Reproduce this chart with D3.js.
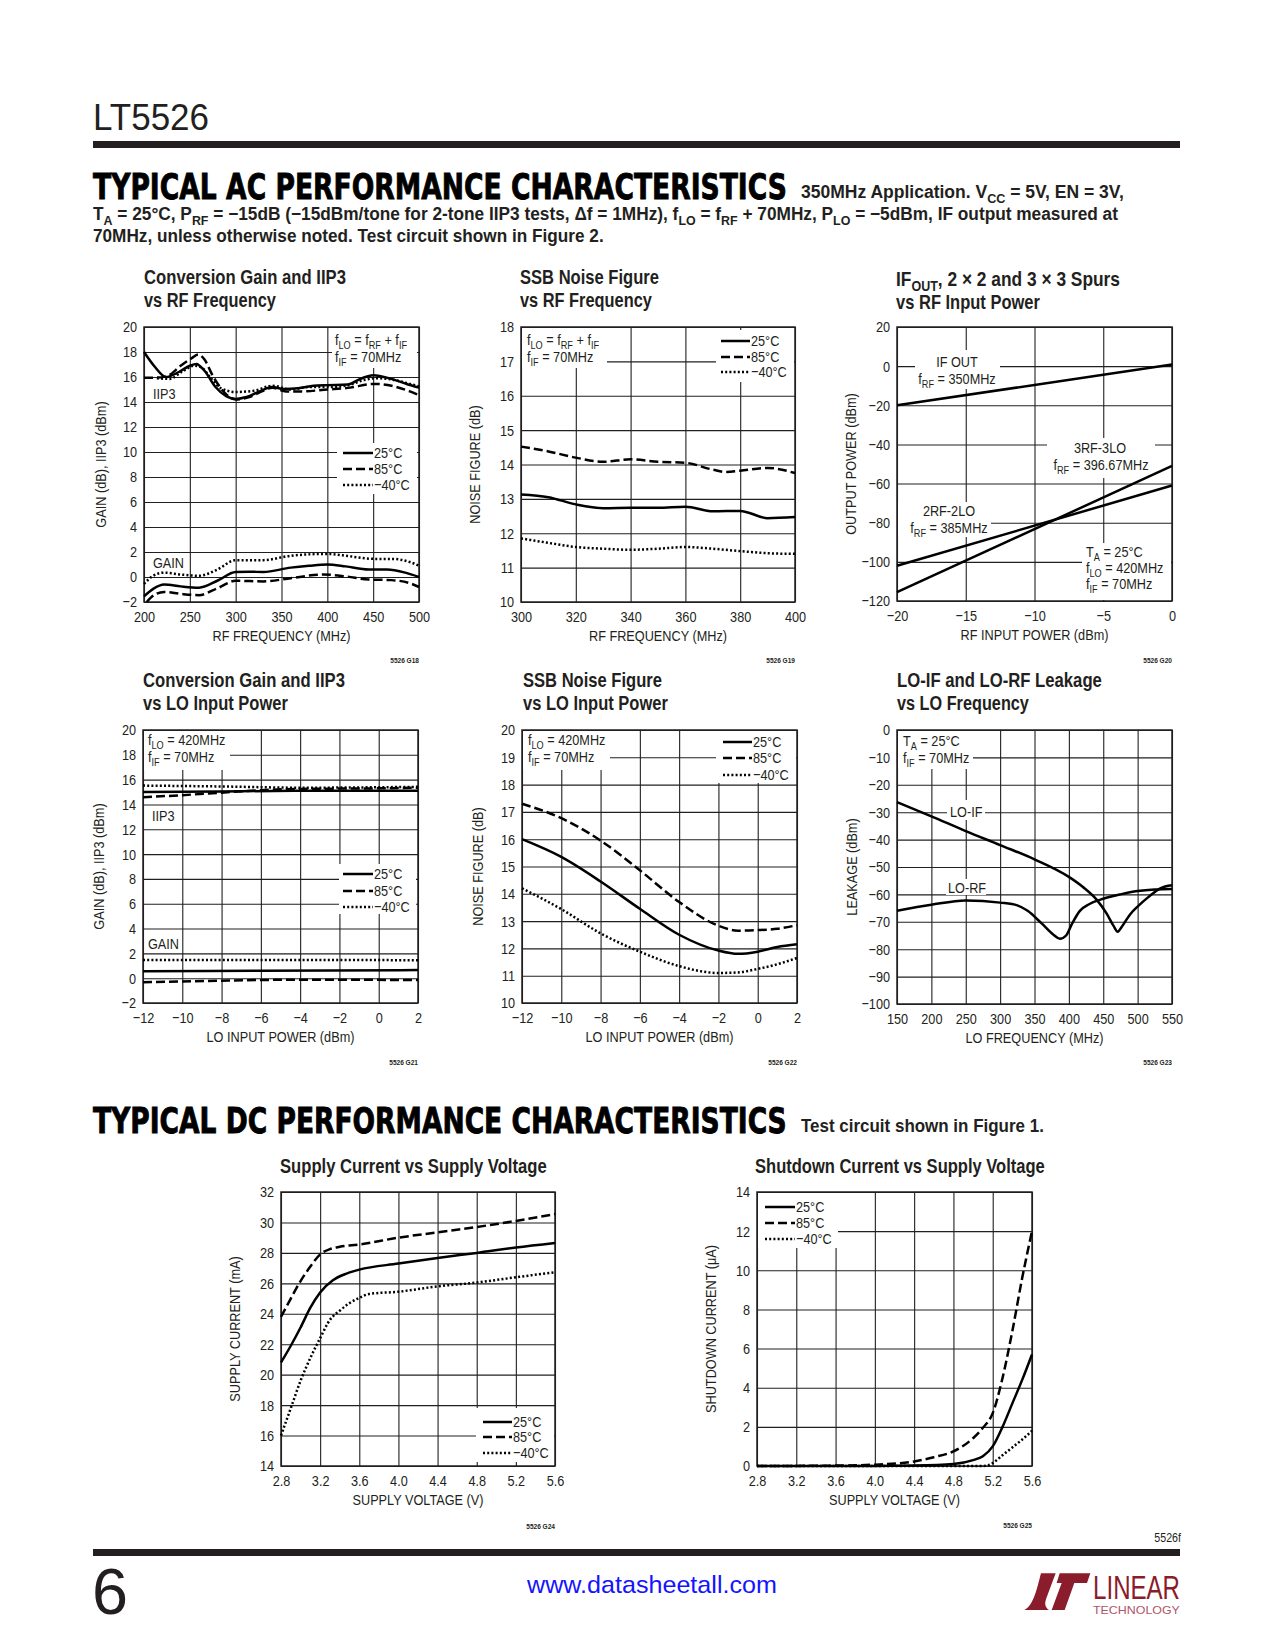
<!DOCTYPE html>
<html><head><meta charset="utf-8">
<script src="https://cdn.jsdelivr.net/npm/d3@7/dist/d3.min.js"></script>
<style>
body{margin:0;background:#fff;}
svg{display:block;}
</style></head><body>
<svg id="page" width="1275" height="1650"></svg>
<script>
// ---------------- DATA ----------------
const tempLabels = ['25°C', '85°C', '\u221240°C'];

// Chart 1: Conversion Gain and IIP3 vs RF Frequency
const c1XTicks = [200, 250, 300, 350, 400, 450, 500];
const c1YTicks = [-2, 0, 2, 4, 6, 8, 10, 12, 14, 16, 18, 20];
const c1Iip3_25 = [[200,18],[212,16.8],[224,16.0],[238,16.4],[250,16.9],[257,17.05],[266,16.5],[278,15.2],[290,14.45],[300,14.25],[312,14.4],[326,14.85],[340,15.2],[352,15.05],[368,15.1],[385,15.3],[400,15.35],[422,15.4],[436,15.85],[450,16.15],[470,15.85],[488,15.4],[500,15.15]];
const c1Iip3_85 = [[200,15.95],[214,15.95],[226,16.1],[240,16.9],[252,17.5],[259,17.8],[266,17.4],[275,16.1],[286,14.9],[300,14.2],[315,14.4],[330,14.9],[340,15.15],[355,14.85],[372,14.85],[400,15.0],[425,15.15],[450,15.45],[470,15.3],[490,14.85],[500,14.55]];
const c1Iip3_m40 = [[214,15.9],[228,15.85],[242,16.45],[255,16.9],[263,16.75],[273,15.9],[284,15.1],[300,14.8],[320,14.9],[340,15.3],[360,15.0],[380,15.2],[400,15.2],[420,15.3],[440,15.75],[452,15.9],[470,15.8],[490,15.45],[500,15.25]];
const c1Gain_25 = [[200,-1.55],[210,-0.95],[222,-0.6],[240,-0.75],[260,-0.85],[280,-0.3],[300,0.4],[315,0.42],[330,0.4],[360,0.75],[380,0.9],[400,1.0],[420,0.85],[445,0.6],[465,0.6],[485,0.35],[500,0.0]];
const c1Gain_85 = [[203,-2.0],[212,-1.4],[222,-1.2],[240,-1.35],[260,-1.45],[280,-0.9],[300,-0.3],[330,-0.35],[360,-0.1],[395,0.2],[420,0.05],[445,-0.2],[470,-0.25],[490,-0.5],[500,-0.8]];
const c1Gain_m40 = [[200,-0.55],[210,0.1],[222,0.35],[240,0.2],[260,0.1],[280,0.6],[300,1.35],[330,1.35],[360,1.7],[400,1.85],[425,1.65],[450,1.45],[470,1.45],[490,1.2],[500,0.9]];

// Chart 2: SSB Noise Figure vs RF Frequency
const c2XTicks = [300, 320, 340, 360, 380, 400];
const c2YTicks = [10, 11, 12, 13, 14, 15, 16, 17, 18];
const c2Nf_25 = [[300,13.13],[310,13.05],[320,12.84],[330,12.73],[340,12.74],[350,12.74],[360,12.77],[370,12.64],[380,12.65],[390,12.44],[400,12.47]];
const c2Nf_85 = [[300,14.52],[310,14.38],[320,14.2],[330,14.08],[340,14.15],[350,14.08],[360,14.05],[370,13.85],[375,13.78],[380,13.82],[390,13.9],[400,13.75]];
const c2Nf_m40 = [[300,11.85],[310,11.72],[320,11.6],[330,11.55],[340,11.52],[350,11.55],[360,11.6],[370,11.55],[380,11.48],[390,11.42],[400,11.4]];

// Chart 3: IFOUT, 2x2 and 3x3 spurs vs RF input power
const c3XTicks = [-20, -15, -10, -5, 0];
const c3YTicks = [-120, -100, -80, -60, -40, -20, 0, 20];
const c3IfOut = [[-20,-20],[0,0.8]];
const c3Spur22 = [[-20,-102],[0,-61]];
const c3Spur33 = [[-20,-115.5],[0,-51]];

// Chart 4: Conversion Gain and IIP3 vs LO Input Power
const c4XTicks = [-12, -10, -8, -6, -4, -2, 0, 2];
const c4YTicks = [-2, 0, 2, 4, 6, 8, 10, 12, 14, 16, 18, 20];
const c4Iip3_25 = [[-12,15.0],[-8,15.05],[-4,15.1],[2,15.1]];
const c4Iip3_85 = [[-12,14.58],[-10,14.75],[-8,14.95],[-6,15.15],[-4,15.25],[0,15.3],[2,15.35]];
const c4Iip3_m40 = [[-12,15.52],[-8,15.45],[-4,15.35],[2,15.42]];
const c4Gain_25 = [[-12,0.55],[-6,0.6],[2,0.65]];
const c4Gain_85 = [[-12,-0.33],[-8,-0.2],[-4,-0.12],[2,-0.15]];
const c4Gain_m40 = [[-12,1.47],[-6,1.47],[2,1.45]];

// Chart 5: SSB Noise Figure vs LO Input Power
const c5XTicks = [-12, -10, -8, -6, -4, -2, 0, 2];
const c5YTicks = [10, 11, 12, 13, 14, 15, 16, 17, 18, 19, 20];
const c5Nf_25 = [[-12,16.0],[-10,15.35],[-8,14.45],[-6,13.45],[-4,12.5],[-2,11.92],[-1,11.8],[0,11.88],[1,12.05],[2,12.15]];
const c5Nf_85 = [[-12,17.3],[-10,16.77],[-8,15.95],[-6,14.86],[-4,13.7],[-2,12.83],[-1,12.65],[0,12.67],[1,12.72],[2,12.85]];
const c5Nf_m40 = [[-12,14.2],[-10,13.44],[-8,12.55],[-6,11.88],[-4,11.35],[-2,11.1],[-1,11.12],[0,11.25],[1,11.42],[2,11.65]];

// Chart 6: LO-IF and LO-RF Leakage vs LO Frequency
const c6XTicks = [150, 200, 250, 300, 350, 400, 450, 500, 550];
const c6YTicks = [-100, -90, -80, -70, -60, -50, -40, -30, -20, -10, 0];
const c6LoIf = [[150,-26.3],[200,-31.5],[250,-36.9],[300,-42.0],[350,-47.2],[400,-53.6],[420,-57.2],[440,-61.8],[455,-67],[465,-71.5],[471,-73.6],[477,-71.8],[489,-67.3],[501,-64.2],[516,-60.9],[533,-57.8],[550,-56.7]];
const c6LoRf = [[150,-66],[200,-63.8],[250,-62.2],[300,-63],[325,-64],[340,-66],[360,-70.5],[378,-74.8],[387,-76.2],[396,-75],[405,-70.5],[416,-66],[430,-63.5],[450,-61.6],[475,-60],[500,-58.8],[525,-58.2],[550,-58]];

// Chart 7: Supply Current vs Supply Voltage
const c7XTicks = [2.8, 3.2, 3.6, 4.0, 4.4, 4.8, 5.2, 5.6];
const c7YTicks = [14, 16, 18, 20, 22, 24, 26, 28, 30, 32];
const c7I_25 = [[2.8,20.8],[2.9,21.9],[3.0,23.1],[3.1,24.4],[3.2,25.4],[3.33,26.2],[3.47,26.64],[3.6,26.9],[4.0,27.3],[4.4,27.67],[4.8,28.0],[5.2,28.35],[5.6,28.65]];
const c7I_85 = [[2.8,23.8],[2.9,25.0],[3.0,26.15],[3.1,27.1],[3.2,27.9],[3.3,28.25],[3.4,28.4],[3.6,28.55],[4.0,29.0],[4.4,29.35],[4.8,29.7],[5.2,30.1],[5.6,30.55]];
const c7I_m40 = [[2.8,16.0],[2.9,17.8],[3.0,19.6],[3.1,21.1],[3.2,22.4],[3.3,23.6],[3.4,24.2],[3.5,24.7],[3.6,25.05],[3.7,25.3],[4.0,25.45],[4.4,25.8],[4.8,26.05],[5.2,26.4],[5.6,26.72]];

// Chart 8: Shutdown Current vs Supply Voltage
const c8XTicks = [2.8, 3.2, 3.6, 4.0, 4.4, 4.8, 5.2, 5.6];
const c8YTicks = [0, 2, 4, 6, 8, 10, 12, 14];
const c8I_25 = [[2.8,0],[4.0,0],[4.4,0.02],[4.8,0.1],[5.0,0.3],[5.1,0.5],[5.2,1.0],[5.3,2.0],[5.4,3.2],[5.5,4.4],[5.6,5.7]];
const c8I_85 = [[2.8,0],[3.6,0.02],[4.0,0.07],[4.4,0.23],[4.6,0.45],[4.8,0.75],[5.0,1.42],[5.1,1.95],[5.2,2.7],[5.3,4.5],[5.4,6.9],[5.5,9.6],[5.6,12.0]];
const c8I_m40 = [[2.8,0],[5.1,0],[5.15,0.03],[5.2,0.15],[5.3,0.55],[5.4,0.95],[5.5,1.35],[5.6,1.8]];

// ---------------- DRAWING ----------------
const svg = d3.select('#page');
const FONT = '"Liberation Sans Narrow","Arial Narrow","Liberation Sans",Arial,sans-serif';
const INK = '#231f20';
const DASH = {solid: null, dash: '9,4', dot: '2,2.2'};
const NARROW = 0.82;

function fmtNum(d) { return d < 0 ? '\u2212' + Math.abs(d) : String(d); }
function fmt1(d) { return d3.format('.1f')(d); }

function txt(parent, x, y, size, opts) {
  opts = opts || {};
  const t = parent.append('text').attr('x', x).attr('y', y)
    .attr('font-family', opts.family || FONT).attr('font-size', size)
    .attr('font-weight', opts.weight || 'normal').attr('fill', opts.fill || INK)
    .attr('text-anchor', opts.anchor || 'start');
  if (opts.len) t.attr('data-len', opts.len);
  return t;
}
function rich(sel, parts, size) {
  const sub = size * 0.72, shift = size * 0.26;
  let down = false;
  parts.forEach(p => {
    const isSub = Array.isArray(p);
    const t = sel.append('tspan').text(isSub ? p[0] : p);
    if (isSub) { t.attr('font-size', sub); if (!down) { t.attr('dy', shift); down = true; } }
    else if (down) { t.attr('dy', -shift); down = false; }
  });
  return sel;
}

function chart(c) {
  const g = svg.append('g');
  const x = d3.scaleLinear().domain(c.xDomain).range([c.L, c.R]);
  const y = d3.scaleLinear().domain(c.yDomain).range([c.B, c.T]);
  const W = c.R - c.L, H = c.B - c.T;

  // grid lines through d3 axes
  const gx = g.append('g').attr('transform', `translate(0,${c.B})`)
    .call(d3.axisBottom(x).tickValues(c.xTicks).tickSize(-H).tickFormat(''));
  gx.select('.domain').remove();
  gx.selectAll('line').attr('stroke', INK).attr('stroke-width', 1.1);
  const gy = g.append('g').attr('transform', `translate(${c.L},0)`)
    .call(d3.axisLeft(y).tickValues(c.yTicks).tickSize(-W).tickFormat(''));
  gy.select('.domain').remove();
  gy.selectAll('line').attr('stroke', INK).attr('stroke-width', 1.1);

  // white boxes behind labels / legends
  (c.boxes || []).concat(c.legend ? [c.legend.box] : []).forEach(b => {
    g.append('rect').attr('x', b[0]).attr('y', b[1]).attr('width', b[2] - b[0]).attr('height', b[3] - b[1]).attr('fill', '#fff');
  });

  // frame
  g.append('rect').attr('x', c.L).attr('y', c.T).attr('width', W).attr('height', H)
    .attr('fill', 'none').attr('stroke', INK).attr('stroke-width', 1.5);

  // tick labels
  const ax = g.append('g').attr('transform', `translate(0,${c.B})`)
    .call(d3.axisBottom(x).tickValues(c.xTicks).tickSize(0).tickPadding(9).tickFormat(c.xFmt || fmtNum));
  ax.select('.domain').remove();
  ax.selectAll('text').attr('font-family', FONT).attr('font-size', 15.5).attr('fill', INK);
  const ay = g.append('g').attr('transform', `translate(${c.L},0)`)
    .call(d3.axisLeft(y).tickValues(c.yTicks).tickSize(0).tickPadding(7).tickFormat(c.yFmt || fmtNum));
  ay.select('.domain').remove();
  ay.selectAll('text').attr('font-family', FONT).attr('font-size', 15.5).attr('fill', INK);

  // axis titles
  txt(g, (c.L + c.R) / 2, c.B + 39, 15.5, {anchor: 'middle'}).text(c.xLabel);
  txt(g, 0, 0, 15.5, {anchor: 'middle'}).attr('dy', '0.35em')
    .attr('transform', `translate(${c.L - c.yLabelOff},${(c.T + c.B) / 2}) rotate(-90)`).text(c.yLabel);

  // chart title
  c.title.forEach((line, i) => {
    const t = txt(g, c.titleX, c.titleY + i * 23, 20, {weight: 'bold', len: c.titleLen[i]});
    rich(t, line, 20);
  });

  // figure code
  txt(g, c.R, c.codeY, 8, {anchor: 'end', weight: 'bold'}).text(c.code);

  // annotation texts
  (c.notes || []).forEach(n => {
    rich(txt(g, n.x, n.y, 15.5, {anchor: n.anchor || 'start'}), n.parts, 15.5);
  });

  // legend
  if (c.legend) {
    const L = c.legend;
    ['solid', 'dash', 'dot'].forEach((st, i) => {
      g.append('line').attr('x1', L.lx0).attr('x2', L.lx1).attr('y1', L.rows[i]).attr('y2', L.rows[i])
        .attr('stroke', '#000').attr('stroke-width', 2.5).attr('stroke-dasharray', DASH[st]);
      txt(g, L.lx1 + 1, L.rows[i] + 5.5, 15.5).text(tempLabels[i]);
    });
  }

  // data curves
  const line = d3.line().x(d => x(d[0])).y(d => y(d[1])).curve(c.curve || d3.curveMonotoneX);
  c.series.forEach(s => {
    g.append('path').datum(s.data).attr('d', line).attr('fill', 'none')
      .attr('stroke', '#000').attr('stroke-width', 2.5).attr('stroke-linejoin', 'round')
      .attr('stroke-dasharray', DASH[s.style]);
  });
}

// ---------- page header ----------
txt(svg, 93, 130, 37.5, {len: 116}).text('LT5526');
svg.append('rect').attr('x', 93).attr('y', 141).attr('width', 1087).attr('height', 7).attr('fill', INK);

const HEAD_FONT = '"DejaVu Sans", "Liberation Sans", sans-serif';
txt(svg, 93, 199, 35, {family: HEAD_FONT, weight: 'bold', len: 694, fill: '#000'})
  .attr('stroke', '#000').attr('stroke-width', 0.9).text('TYPICAL AC PERFORMANCE CHARACTERISTICS');
rich(txt(svg, 801, 198, 18, {weight: 'bold', len: 323}), ['350MHz Application. V', ['CC'], ' = 5V, EN = 3V,'], 18);
rich(txt(svg, 93, 220, 18, {weight: 'bold', len: 1026}),
  ['T', ['A'], ' = 25°C, P', ['RF'], ' = \u221215dB (\u221215dBm/tone for 2-tone IIP3 tests, \u0394f = 1MHz), f', ['LO'], ' = f', ['RF'], ' + 70MHz, P', ['LO'], ' = \u22125dBm, IF output measured at'], 18);
txt(svg, 93, 242, 18, {weight: 'bold', len: 511}).text('70MHz, unless otherwise noted. Test circuit shown in Figure 2.');

// ---------- charts ----------
chart({
  L: 144, R: 419, T: 327, B: 602, xDomain: [200, 500], yDomain: [-2, 20], xTicks: c1XTicks, yTicks: c1YTicks,
  xLabel: 'RF FREQUENCY (MHz)', yLabel: 'GAIN (dB), IIP3 (dBm)', yLabelOff: 43,
  title: [['Conversion Gain and IIP3'], ['vs RF Frequency']], titleX: 144, titleY: 284, titleLen: [202, 132],
  code: '5526 G18', codeY: 663,
  boxes: [[332, 328, 417, 368]],
  notes: [
    {x: 335, y: 345, parts: ['f', ['LO'], ' = f', ['RF'], ' + f', ['IF']]},
    {x: 335, y: 362, parts: ['f', ['IF'], ' = 70MHz']},
    {x: 153, y: 399, parts: ['IIP3']},
    {x: 153, y: 568, parts: ['GAIN']}
  ],
  legend: {box: [337, 443, 417, 494], lx0: 343, lx1: 373, rows: [453, 469, 485]},
  series: [
    {data: c1Iip3_25, style: 'solid'}, {data: c1Iip3_85, style: 'dash'}, {data: c1Iip3_m40, style: 'dot'},
    {data: c1Gain_25, style: 'solid'}, {data: c1Gain_85, style: 'dash'}, {data: c1Gain_m40, style: 'dot'}
  ]
});

chart({
  L: 521, R: 795, T: 327, B: 602, xDomain: [300, 400], yDomain: [10, 18], xTicks: c2XTicks, yTicks: c2YTicks,
  xLabel: 'RF FREQUENCY (MHz)', yLabel: 'NOISE FIGURE (dB)', yLabelOff: 46,
  title: [['SSB Noise Figure'], ['vs RF Frequency']], titleX: 520, titleY: 284, titleLen: [139, 132],
  code: '5526 G19', codeY: 663,
  boxes: [[522, 328, 607, 368]],
  notes: [
    {x: 527, y: 345, parts: ['f', ['LO'], ' = f', ['RF'], ' + f', ['IF']]},
    {x: 527, y: 362, parts: ['f', ['IF'], ' = 70MHz']}
  ],
  legend: {box: [716, 330, 794, 382], lx0: 721, lx1: 750, rows: [341, 357, 372]},
  series: [{data: c2Nf_25, style: 'solid'}, {data: c2Nf_85, style: 'dash'}, {data: c2Nf_m40, style: 'dot'}]
});

chart({
  L: 897, R: 1172, T: 327, B: 601, xDomain: [-20, 0], yDomain: [-120, 20], xTicks: c3XTicks, yTicks: c3YTicks,
  xLabel: 'RF INPUT POWER (dBm)', yLabel: 'OUTPUT POWER (dBm)', yLabelOff: 46,
  title: [['IF', ['OUT'], ', 2 \u00d7 2 and 3 \u00d7 3 Spurs'], ['vs RF Input Power']], titleX: 896, titleY: 286, titleLen: [224, 144],
  code: '5526 G20', codeY: 663, curve: d3.curveLinear,
  boxes: [[915, 350, 1000, 389], [1047, 438, 1155, 478], [898, 502, 991, 537], [1082, 543, 1171, 600]],
  notes: [
    {x: 957, y: 367, anchor: 'middle', parts: ['IF OUT']},
    {x: 957, y: 384, anchor: 'middle', parts: ['f', ['RF'], ' = 350MHz']},
    {x: 1100, y: 453, anchor: 'middle', parts: ['3RF-3LO']},
    {x: 1101, y: 470, anchor: 'middle', parts: ['f', ['RF'], ' = 396.67MHz']},
    {x: 949, y: 516, anchor: 'middle', parts: ['2RF-2LO']},
    {x: 949, y: 533, anchor: 'middle', parts: ['f', ['RF'], ' = 385MHz']},
    {x: 1086, y: 557, parts: ['T', ['A'], ' = 25°C']},
    {x: 1086, y: 573, parts: ['f', ['LO'], ' = 420MHz']},
    {x: 1086, y: 589, parts: ['f', ['IF'], ' = 70MHz']}
  ],
  series: [{data: c3IfOut, style: 'solid'}, {data: c3Spur22, style: 'solid'}, {data: c3Spur33, style: 'solid'}]
});

chart({
  L: 143, R: 418, T: 730, B: 1003, xDomain: [-12, 2], yDomain: [-2, 20], xTicks: c4XTicks, yTicks: c4YTicks,
  xLabel: 'LO INPUT POWER (dBm)', yLabel: 'GAIN (dB), IIP3 (dBm)', yLabelOff: 44,
  title: [['Conversion Gain and IIP3'], ['vs LO Input Power']], titleX: 143, titleY: 687, titleLen: [202, 145],
  code: '5526 G21', codeY: 1065,
  boxes: [[144, 731, 230, 770]],
  notes: [
    {x: 148, y: 745, parts: ['f', ['LO'], ' = 420MHz']},
    {x: 148, y: 762, parts: ['f', ['IF'], ' = 70MHz']},
    {x: 152, y: 821, parts: ['IIP3']},
    {x: 148, y: 949, parts: ['GAIN']}
  ],
  legend: {box: [339, 864, 416, 914], lx0: 343, lx1: 373, rows: [874, 891, 907]},
  series: [
    {data: c4Iip3_25, style: 'solid'}, {data: c4Iip3_85, style: 'dash'}, {data: c4Iip3_m40, style: 'dot'},
    {data: c4Gain_25, style: 'solid'}, {data: c4Gain_85, style: 'dash'}, {data: c4Gain_m40, style: 'dot'}
  ]
});

chart({
  L: 522, R: 797, T: 730, B: 1003, xDomain: [-12, 2], yDomain: [10, 20], xTicks: c5XTicks, yTicks: c5YTicks,
  xLabel: 'LO INPUT POWER (dBm)', yLabel: 'NOISE FIGURE (dB)', yLabelOff: 44,
  title: [['SSB Noise Figure'], ['vs LO Input Power']], titleX: 523, titleY: 687, titleLen: [139, 145],
  code: '5526 G22', codeY: 1065,
  boxes: [[523, 731, 610, 770]],
  notes: [
    {x: 528, y: 745, parts: ['f', ['LO'], ' = 420MHz']},
    {x: 528, y: 762, parts: ['f', ['IF'], ' = 70MHz']}
  ],
  legend: {box: [716, 731, 796, 783], lx0: 723, lx1: 752, rows: [742, 758, 775]},
  series: [{data: c5Nf_25, style: 'solid'}, {data: c5Nf_85, style: 'dash'}, {data: c5Nf_m40, style: 'dot'}]
});

chart({
  L: 897, R: 1172, T: 730, B: 1004, xDomain: [150, 550], yDomain: [-100, 0], xTicks: c6XTicks, yTicks: c6YTicks,
  xLabel: 'LO FREQUENCY (MHz)', yLabel: 'LEAKAGE (dBm)', yLabelOff: 45,
  title: [['LO-IF and LO-RF Leakage'], ['vs LO Frequency']], titleX: 897, titleY: 687, titleLen: [205, 132],
  code: '5526 G23', codeY: 1065,
  boxes: [[898, 731, 973, 769], [947, 800, 985, 820], [946, 879, 986, 895]],
  notes: [
    {x: 903, y: 746, parts: ['T', ['A'], ' = 25°C']},
    {x: 903, y: 763, parts: ['f', ['IF'], ' = 70MHz']},
    {x: 950, y: 817, parts: ['LO-IF']},
    {x: 948, y: 893, parts: ['LO-RF']}
  ],
  series: [{data: c6LoIf, style: 'solid'}, {data: c6LoRf, style: 'solid'}]
});

// DC heading
txt(svg, 93, 1133, 35, {family: HEAD_FONT, weight: 'bold', len: 694, fill: '#000'})
  .attr('stroke', '#000').attr('stroke-width', 0.9).text('TYPICAL DC PERFORMANCE CHARACTERISTICS');
txt(svg, 801, 1132, 18, {weight: 'bold', len: 243}).text('Test circuit shown in Figure 1.');

chart({
  L: 281, R: 555, T: 1192, B: 1466, xDomain: [2.8, 5.6], yDomain: [14, 32], xTicks: c7XTicks, yTicks: c7YTicks, xFmt: fmt1,
  xLabel: 'SUPPLY VOLTAGE (V)', yLabel: 'SUPPLY CURRENT (mA)', yLabelOff: 46,
  title: [['Supply Current vs Supply Voltage']], titleX: 280, titleY: 1173, titleLen: [267],
  code: '5526 G24', codeY: 1529,
  legend: {box: [476, 1408, 554, 1462], lx0: 483, lx1: 512, rows: [1422, 1437, 1453]},
  series: [{data: c7I_25, style: 'solid'}, {data: c7I_85, style: 'dash'}, {data: c7I_m40, style: 'dot'}]
});

chart({
  L: 757, R: 1032, T: 1192, B: 1466, xDomain: [2.8, 5.6], yDomain: [0, 14], xTicks: c8XTicks, yTicks: c8YTicks, xFmt: fmt1,
  xLabel: 'SUPPLY VOLTAGE (V)', yLabel: 'SHUTDOWN CURRENT (\u03bcA)', yLabelOff: 46,
  title: [['Shutdown Current vs Supply Voltage']], titleX: 755, titleY: 1173, titleLen: [290],
  code: '5526 G25', codeY: 1528,
  legend: {box: [758, 1193, 838, 1248], lx0: 765, lx1: 795, rows: [1207, 1223, 1239]},
  series: [{data: c8I_25, style: 'solid'}, {data: c8I_85, style: 'dash'}, {data: c8I_m40, style: 'dot'}]
});

// ---------- footer ----------
txt(svg, 1181, 1542, 13, {anchor: 'end'}).text('5526f');
svg.append('rect').attr('x', 93).attr('y', 1549).attr('width', 1087).attr('height', 7).attr('fill', INK);
txt(svg, 92, 1614, 64, {len: 36}).text('6');
txt(svg, 527, 1593, 24, {family: '"Liberation Sans", Arial, sans-serif', fill: '#1414ff', len: 250}).text('www.datasheetall.com');
const MAROON = '#8a1c2c';
const logo = svg.append('g').attr('transform', 'translate(1005,1565) scale(0.3333)');
logo.append('path').attr('fill', MAROON)
  .attr('d', 'M108,25 L152,25 L124,100 C118,116 120,128 132,135 L58,135 C86,122 96,70 108,25 Z');
logo.append('path').attr('fill', MAROON)
  .attr('d', 'M164,25 L256,25 L246,54 L208,54 L179,135 L140,135 L170,54 L155,54 Z');
txt(svg, 1093, 1599, 33, {fill: MAROON, len: 87}).text('LINEAR');
txt(svg, 1093, 1614, 10, {fill: '#b0566a', len: 87}).text('TECHNOLOGY');

// Horizontal fitting: compress text around its anchor x (narrow-font emulation or exact width)
svg.selectAll('text').each(function () {
  const natural = this.getComputedTextLength();
  if (!(natural > 0)) return;
  const target = this.getAttribute('data-len');
  const k = target ? (+target / natural) : NARROW;
  const x0 = +(this.getAttribute('x') || 0);
  const prev = this.getAttribute('transform');
  if (prev) this.setAttribute('transform', `${prev} translate(${x0 * (1 - k)},0) scale(${k.toFixed(4)},1)`);
  else this.setAttribute('transform', `translate(${(x0 * (1 - k)).toFixed(3)},0) scale(${k.toFixed(4)},1)`);
  this.removeAttribute('data-len');
});
</script>
</body></html>
